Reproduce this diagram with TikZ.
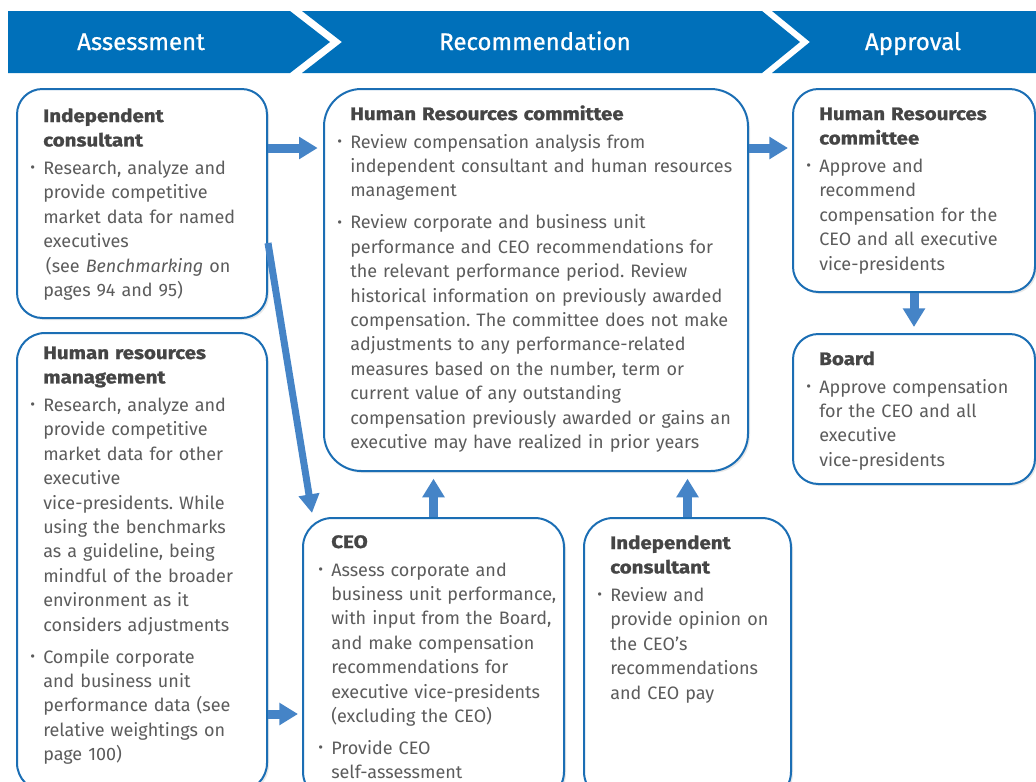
\documentclass[tikz,border=0pt]{standalone}
\usepackage{fontspec}
\setmainfont{Fira Sans}[BoldFeatures={FakeStretch=1.14,FakeBold=1.2}]
\newfontfamily\bandfont{Fira Sans}[FakeBold=0.8]
\usetikzlibrary{arrows.meta,shadows,calc}
\definecolor{banner}{HTML}{0070BA}
\definecolor{bord}{HTML}{1B6EB4}
\definecolor{arrc}{HTML}{4584C7}
\definecolor{hdcol}{HTML}{454545}
\definecolor{bodycol}{HTML}{5C5C5C}
\hyphenpenalty=10000
\exhyphenpenalty=10000
\frenchspacing
\newcommand\bdot{\raisebox{0.1em}{\fontsize{11}{11}\selectfont\textbullet}}
\newcommand\bitem{\par\noindent\llap{\makebox[9.75pt][l]{\bdot}}}
\newcommand\bgap{\par\vspace{5.7pt}}
\newcommand\hd[1]{{\bfseries\color{hdcol}#1}\par\vspace{2.7pt}}
\begin{document}
\begin{tikzpicture}[x=0.75pt,y=-0.75pt,
  box/.style={draw=bord, line width=1.5pt, fill=white, rounded corners=19pt,
    anchor=north west, inner sep=0pt,
    drop shadow={opacity=0.18, shadow xshift=1.5pt, shadow yshift=-1.5pt}},
  txt/.style={anchor=base west, inner sep=0pt, align=left, text=bodycol,
    font=\fontsize{13.5}{18.3}\selectfont},
  band/.style={fill=banner, draw=none},
  bandtxt/.style={text=white, font=\bandfont\fontsize{18}{20}\selectfont, inner sep=0pt, anchor=base},
  arr/.style={draw=arrc, line width=6.75pt, -{Triangle[length=14pt,width=16pt]}},
  darr/.style={draw=arrc, line width=5.25pt, -{Triangle[length=14pt,width=15pt]}}
]
\useasboundingbox (0,0) rectangle (1036,782);
\clip (0,0) rectangle (1036,782);

% banner
\fill[band] (8,11) -- (290,11) -- (330,42) -- (290,73) -- (8,73) -- cycle;
\fill[band] (302,11) -- (762,11) -- (800,42) -- (762,73) -- (302,73) -- (342,42) -- cycle;
\fill[band] (772,11) -- (1036,11) -- (1036,73) -- (772,73) -- (810,42) -- cycle;
\node[bandtxt] (t1) at (141,50) {Assessment};
\node[bandtxt] (t2) at (535,50) {Recommendation};
\node[bandtxt] (t3) at (913,50) {Approval};

% boxes
\node[box, minimum width=187.5pt, minimum height=171.75pt] (A) at (16,88) {};
\node[box, minimum width=187.5pt, minimum height=343.5pt, rounded corners=21pt] (B) at (16,332) {};
\node[box, minimum width=318pt, minimum height=286.5pt, rounded corners=28pt] (C) at (323,88) {};
\node[box, minimum width=195.75pt, minimum height=212.25pt, rounded corners=22pt] (CEO) at (302,517) {};
\node[box, minimum width=155.25pt, minimum height=212.25pt, rounded corners=22pt] (IC) at (583,517) {};
\node[box, minimum width=181.5pt, minimum height=152.25pt] (HRA) at (792,88) {};
\node[box, minimum width=181.5pt, minimum height=112.5pt] (BD) at (792,333) {};

% texts
\node[txt, text width=164pt] (tA) at (43,122) {\hd{Independent\\consultant}%
\bitem Research, analyze and\\provide competitive\\market data for named\\executives\\
\hspace*{2pt}(see \textit{Benchmarking} on\\pages 94 and 95)};

\node[txt, text width=164pt] (tB) at (43,359) {\hd{Human resources\\management}%
\bitem Research, analyze and\\provide competitive\\market data for other\\executive\\vice-presidents. While\\using the benchmarks\\as a guideline, being\\mindful of the broader\\environment as it\\considers adjustments
\bgap\bitem Compile corporate\\and business unit\\performance data (see\\relative weightings on\\page 100)};

\node[txt, text width=297pt] (tC) at (350,120) {\hd{Human Resources committee}%
\bitem Review compensation analysis from\\independent consultant and human resources\\management
\bgap\bitem Review corporate and business unit\\performance and CEO recommendations for\\the relevant performance period. Review\\historical information on previously awarded\\compensation. The committee does not make\\adjustments to any performance-related\\measures based on the number, term or\\current value of any outstanding\\compensation previously awarded or gains an\\executive may have realized in prior years};

\node[txt, text width=174pt] (tCEO) at (331,548) {\hd{CEO}%
\bitem Assess corporate and\\business unit performance,\\with input from the Board,\\and make compensation\\recommendations for\\executive vice-presidents\\(excluding the CEO)
\bgap\bitem Provide CEO\\self-assessment};

\node[txt, text width=135pt] (tIC) at (610,549) {\hd{Independent\\consultant}%
\bitem Review and\\provide opinion on\\the CEO’s\\recommendations\\and CEO pay};

\node[txt, text width=161pt] (tHRA) at (819,120) {\hd{Human Resources\\committee}%
\bitem Approve and\\recommend\\compensation for the\\CEO and all executive\\vice-presidents};

\node[txt, text width=161pt] (tBD) at (819,365) {\hd{Board}%
\bitem Approve compensation\\for the CEO and all\\executive\\vice-presidents};

% arrows
\draw[arr, shorten >=4pt] (A.east |- 0,148) -- (C.west |- 0,148);
\draw[arr, shorten >=3pt] (C.east |- 0,148) -- (HRA.west |- 0,148);
\draw[arr, shorten >=4.5pt] (HRA.south) -- (BD.north);
\draw[arr, shorten >=5pt] (CEO.north) -- (CEO.north |- C.south);
\draw[arr, shorten >=5pt] (IC.north) -- (IC.north |- C.south);
\draw[arr, shorten >=3pt] (B.east |- 0,714) -- (CEO.west |- 0,714);
\draw[darr] (A.east |- 0,243) -- ([xshift=7.5pt,yshift=3pt]CEO.north west);
\end{tikzpicture}
\end{document}
